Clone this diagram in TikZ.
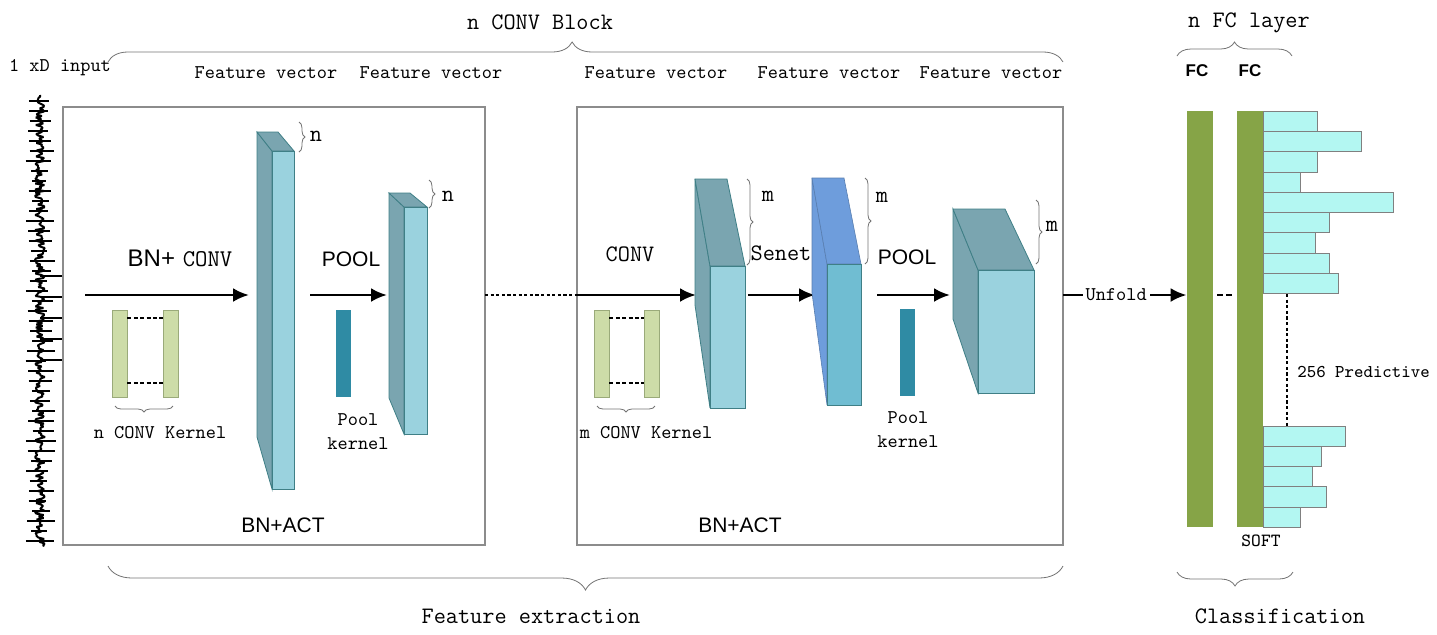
\documentclass[tikz,border=0pt]{standalone}
\usepackage{fontspec}
\newfontfamily\arialf{Liberation Sans}
\usetikzlibrary{arrows.meta,decorations.pathreplacing,positioning}

\definecolor{kerngreen}{HTML}{CDDCA8}
\definecolor{kernedge}{HTML}{9AAA7A}
\definecolor{slabdark}{HTML}{7AA5B0}
\definecolor{slablight}{HTML}{9AD2DE}
\definecolor{slabedge}{HTML}{3F7F86}
\definecolor{poolteal}{HTML}{2F8BA4}
\definecolor{seblue}{HTML}{6E9DDC}
\definecolor{sefront}{HTML}{70BDD2}
\definecolor{fcgreen}{HTML}{86A447}
\definecolor{probcyan}{HTML}{B3F7F2}

\tikzset{
  flow/.style={line width=1.4pt,-{Latex[length=8pt,width=7pt]}},
  frame/.style={draw=black!45,line width=0.7pt},
  kern/.style={draw=kernedge,fill=kerngreen,minimum width=7.5pt,minimum height=43.5pt,inner sep=0pt},
  poolk/.style={fill=poolteal,minimum width=7.5pt,minimum height=43.5pt,inner sep=0pt},
  kdash/.style={line width=1pt,dash pattern=on 2pt off 1.2pt},
  bigdots/.style={line width=1.4pt,dash pattern=on 1.6pt off 1.2pt},
  pbrace/.style={decorate,decoration={brace,amplitude=#1},draw=black!55,line width=0.4pt},
  pbrace/.default=3pt,
  slab/.style={draw=slabedge,line width=0.4pt},
  fcbar/.style={fill=fcgreen,minimum width=13pt,minimum height=208pt,inner sep=0pt},
  outbar/.style={draw=black!50,fill=probcyan,line width=0.4pt},
  lbl/.style={font=\fontsize{9.7}{12}\selectfont\ttfamily},
  biglbl/.style={font=\fontsize{11.8}{14}\selectfont\ttfamily},
  sanslbl/.style={font=\fontsize{10.5}{12}\selectfont\arialf},
}

\begin{document}
\begin{tikzpicture}[x=0.5pt,y=-0.5pt]
\useasboundingbox (0,0) rectangle (1437,634);

% input signal
\pgfmathsetseed{11}
\draw[line width=1pt,line join=bevel] (40,95) \foreach \t in {96.5,98,...,547} { -- ({40+5*rand},\t) };
\foreach \t in {101,111,...,545}
  \draw[line width=0.7pt] ({33-8*rnd},\t) -- ({46+10*rnd},\t);
\foreach \t in {276,297,318,339,360}
  \draw[line width=0.6pt] (40,\t) -- (63,\t);
\node[lbl] (inp) at (60,68) {1 xD input};

% conv blocks
\draw[frame] (63,107) rectangle (485,545);
\draw[frame] (577,107) rectangle (1063,545);

\coordinate (b1e) at (485,295);
\coordinate (b2w) at (577,295);
\draw[bigdots] (b1e) -- (b2w);

% block 1
\coordinate (a1s) at (85,295);
\coordinate (a1e) at (249,295);
\draw[flow] (a1s) -- (a1e);
\node (bnconv) at (180,258) {\fontsize{12}{14}\selectfont{\arialf BN+} \ttfamily CONV};

\node[kern] (k1a) at (119.5,353.5) {};
\node[kern] (k1b) at (170.5,353.5) {};
\draw[kdash] ([yshift=-4pt]k1a.north east) -- ([yshift=-4pt]k1b.north west);
\draw[kdash] ([yshift=7pt]k1a.south east) -- ([yshift=7pt]k1b.south west);
\draw[pbrace] (173,406) -- (115,406);
\node[lbl] (kn1) at (160,433) {n CONV Kernel};

\filldraw[slab,fill=slabdark] (257,132) -- (272,151) -- (272,489) -- (257,437) -- cycle;
\filldraw[slab,fill=slabdark] (257,132) -- (278,132) -- (294,151) -- (272,151) -- cycle;
\filldraw[slab,fill=slablight] (272,151) rectangle (294,489);
\draw[pbrace] (299,122) -- (299,152);
\node[biglbl] (n1) at (316,136) {n};

\coordinate (a2s) at (310,295);
\coordinate (a2e) at (387,295);
\draw[flow] (a2s) -- (a2e);
\node[sanslbl] (pool1) at (351,259) {POOL};
\node[poolk] (pk1) at (343.5,353.5) {};
\node[lbl,align=center] (pkl1) at (358,432) {Pool\\kernel};

\filldraw[slab,fill=slabdark] (389,193) -- (404,207) -- (404,434) -- (389,398) -- cycle;
\filldraw[slab,fill=slabdark] (389,193) -- (410,193) -- (427,207) -- (404,207) -- cycle;
\filldraw[slab,fill=slablight] (404,207) rectangle (427,434);
\draw[pbrace] (429,180) -- (429,208);
\node[biglbl] (n2) at (448,196) {n};

\node[sanslbl] (act1) at (283,525) {BN+ACT};

% block 2
\coordinate (a3e) at (696,295);
\draw[flow] (b2w) -- (a3e);
\node[biglbl] (conv2) at (630,254) {CONV};

\node[kern] (k2a) at (601.5,353.5) {};
\node[kern] (k2b) at (651.5,353.5) {};
\draw[kdash] ([yshift=-4pt]k2a.north east) -- ([yshift=-4pt]k2b.north west);
\draw[kdash] ([yshift=7pt]k2a.south east) -- ([yshift=7pt]k2b.south west);
\draw[pbrace] (655,406) -- (597,406);
\node[lbl] (kn2) at (646,433) {m CONV Kernel};

\filldraw[slab,fill=slabdark] (695,179) -- (710,266) -- (710,408) -- (695,305) -- cycle;
\filldraw[slab,fill=slabdark] (695,179) -- (727,179) -- (745,266) -- (710,266) -- cycle;
\filldraw[slab,fill=slablight] (710,266) rectangle (745,408);
\draw[pbrace] (747,179) -- (747,265);
\node[biglbl] (m1) at (768,196) {m};
\node[biglbl] (senet) at (781,253) {Senet};

\coordinate (a4s) at (748,295);
\coordinate (a4e) at (815,295);
\draw[flow] (a4s) -- (a4e);

\filldraw[draw=seblue!80!black,line width=0.3pt,fill=seblue] (812,178) -- (827,264) -- (827,405) -- (812,293) -- cycle;
\filldraw[draw=seblue!80!black,line width=0.3pt,fill=seblue] (812,178) -- (844,178) -- (861,264) -- (827,264) -- cycle;
\filldraw[draw=slabedge,line width=0.3pt,fill=sefront] (827,264) rectangle (861,405);
\draw[pbrace] (865,178) -- (865,264);
\node[biglbl] (m2) at (882,197) {m};

\coordinate (a5s) at (877,295);
\coordinate (a5e) at (950,295);
\draw[flow] (a5s) -- (a5e);
\node[sanslbl] (pool2) at (907,257) {POOL};
\node[poolk] (pk2) at (907,352.5) {};
\node[lbl,align=center] (pkl2) at (908,430) {Pool\\kernel};

\filldraw[slab,fill=slabdark] (953,209) -- (978,270) -- (978,393) -- (953,319) -- cycle;
\filldraw[slab,fill=slabdark] (953,209) -- (1005,209) -- (1034,270) -- (978,270) -- cycle;
\filldraw[slab,fill=slablight] (978,270) rectangle (1034,393);
\draw[pbrace] (1036,200) -- (1036,264);
\node[biglbl] (m3) at (1052,226) {m};

\node[sanslbl] (act2) at (740,525) {BN+ACT};

% feature labels
\foreach \fx in {266,431,656,829,991}
  \node[lbl] at (\fx,73) {Feature vector};

% braces and titles
\draw[pbrace=10pt,decoration={aspect=0.486}] (108,62) -- (1063,62);
\node[biglbl] (blk) at (540,22) {n CONV Block};
\draw[pbrace=12pt] (1063,566) -- (108,566);
\node[biglbl] (fext) at (531,616) {Feature extraction};

% classifier
\node[fcbar] (fc1) at (1200,319) {};
\node[fcbar] (fc2) at (1250,319) {};
\coordinate (unf) at (1063,295);
\draw[flow] (unf) -- node[lbl,fill=white,inner sep=1.5pt,pos=0.43] {Unfold} (unf -| fc1.west);
\draw[line width=1.3pt,dash pattern=on 3pt off 1.5pt,shorten <=2pt,shorten >=1pt] (unf -| fc1.east) -- (unf -| fc2.west);

\foreach \l [count=\i] in {54,98,54,37,130,66,52,66,75}
  \draw[outbar] (1263,{111+(\i-1)*20.3}) rectangle ++(\l,20.3);
\foreach \l [count=\i] in {82,58,49,63,37}
  \draw[outbar] (1263,{426.5+(\i-1)*20.1}) rectangle ++(\l,20.1);
\coordinate (ptop) at (1287,294);
\coordinate (pbot) at (1287,427);
\draw[bigdots] (ptop) -- (pbot);
\node[lbl,anchor=west,inner sep=0pt,font=\fontsize{9}{11}\selectfont\ttfamily] (pred) at (1297,372) {256 Predictive};

\node[font=\fontsize{8.5}{10}\selectfont\arialf\bfseries] (fcl1) at (1197,71) {FC};
\node[font=\fontsize{8.5}{10}\selectfont\arialf\bfseries] (fcl2) at (1250,71) {FC};
\draw[pbrace=7pt] (1177,56) -- (1292,56);
\node[biglbl] (fcn) at (1249,23) {n FC layer};
\node[lbl,font=\fontsize{9.3}{11}\selectfont\ttfamily] (soft) at (1261,541) {SOFT};
\draw[pbrace=7pt] (1293,572) -- (1177,572);
\node[biglbl] (cls) at (1280,616) {Classification};
\end{tikzpicture}
\end{document}
